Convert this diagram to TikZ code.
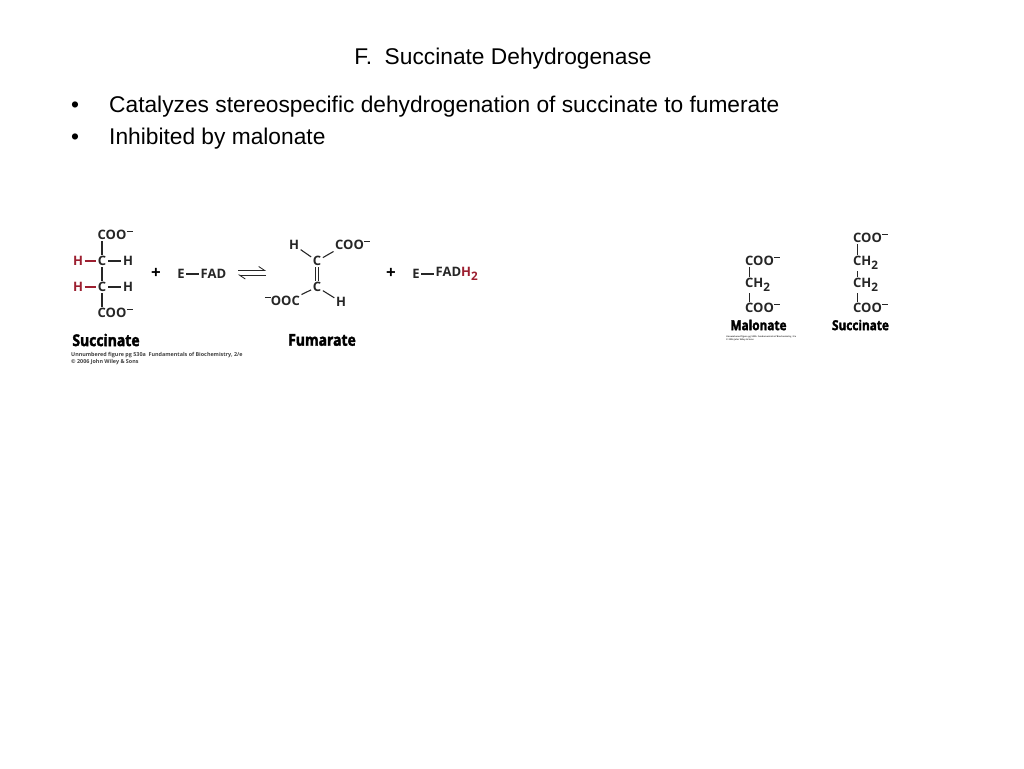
\documentclass[tikz,border=0pt]{standalone}
\usepackage{fontspec}
\setmainfont{Liberation Sans}
\newfontfamily\chemfont{Open Sans}
\newfontfamily\namefont[FakeStretch=0.86,BoldFeatures={FakeBold=2.2}]{Open Sans}
\usetikzlibrary{arrows.meta}
\definecolor{acidred}{HTML}{9C1F30}
\newcommand{\chg}{\hspace{0.04em}\rule[0.62em]{0.46em}{0.07em}}
\newcommand{\subtwo}{\raisebox{-0.3em}{\scalebox{0.9}{2}}}

\begin{document}
\begin{tikzpicture}[x=1pt,y=-1pt,
    slidetext/.style={font=\fontsize{22.75}{26}\selectfont,inner sep=0pt},
    atom/.style={font=\chemfont\bfseries\fontsize{13}{15}\selectfont,inner sep=1.5pt,text=black!85},
    redatom/.style={atom,text=acidred},
    molname/.style={font=\namefont\bfseries\fontsize{16.2}{17}\selectfont,inner sep=0pt},
    smallname/.style={font=\namefont\bfseries\fontsize{13.7}{14}\selectfont,inner sep=0pt},
    credit/.style={font=\chemfont\bfseries\fontsize{5.4}{7}\selectfont,inner sep=0pt,anchor=west,text=black!75},
    smallcredit/.style={credit,font=\chemfont\bfseries\fontsize{2.2}{3}\selectfont},
    bond/.style={line width=1.1pt,black!85},
    redbond/.style={line width=1.1pt,acidred},
    sign/.style={font=\chemfont\bfseries\fontsize{17}{17}\selectfont,inner sep=0pt}
    ]
    \useasboundingbox (0,0) rectangle (1024,768);
    
    % slide text
    \node[slidetext] (title) at (503,59) {F.\ \ Succinate Dehydrogenase};
    \foreach \ypos/\words[count=\i] in {107/Catalyzes stereospecific dehydrogenation of succinate to fumerate,139/Inhibited by malonate} {
        \node[slidetext] (dot\i) at (75,\ypos) {•};
        \node[slidetext,anchor=west] (line\i) at (109,\ypos) {\words};
    }
    
    % succinate, left
    \node[atom,anchor=west] (stop) at (96,235) {COO\chg};
    \node[atom] (sc1) at (102,261) {C};
    \node[atom] (sc2) at (102,287) {C};
    \node[atom,anchor=west] (sbot) at (96,313) {COO\chg};
    \foreach \c in {1,2} {
        \node[redatom] (shl\c) at ([xshift=-24pt]sc\c) {H};
        \node[atom] (shr\c) at ([xshift=26pt]sc\c) {H};
        \draw[redbond] (shl\c) -- (sc\c);
        \draw[bond] (sc\c) -- (shr\c);
    }
    \draw[bond] (sc1) -- (sc1 |- stop.south);
    \draw[bond] (sc1) -- (sc2);
    \draw[bond] (sc2) -- (sc2 |- sbot.north);
    \node[molname] (sname) at (106,340) {Succinate};
    \node[credit] (scredit1) at (71,355.5) {Unnumbered figure pg 530a\ \ Fundamentals of Biochemistry, 2/e};
    \node[credit] (scredit2) at (71,362.5) {© 2006 John Wiley \& Sons};
    
    % left side enzyme
    \node[sign] (plus1) at (156,273) {+};
    \node[atom] (e1) at (181,274) {E};
    \node[atom,anchor=west] (fad) at (199,274) {FAD};
    \draw[bond] (e1) -- (fad);
    
    % equilibrium harpoons
    \coordinate (eqa) at (238,270.5);
    \coordinate (eqb) at (266,270.5);
    \coordinate (eqc) at (266,275);
    \coordinate (eqd) at (238,275);
    \draw[line width=0.8pt,black!85,-{Straight Barb[left,length=6pt,width=8pt]}] (eqa) -- (eqb);
    \draw[line width=0.8pt,black!85,-{Straight Barb[left,length=6pt,width=8pt]}] (eqc) -- (eqd);
    
    % fumarate
    \node[atom] (fc1) at (317,261) {C};
    \node[atom] (fc2) at (317,287) {C};
    \node[atom] (fh1) at (294,245) {H};
    \node[atom,anchor=west] (fcoo1) at (333.5,245) {COO\chg};
    \node[atom,anchor=east] (fcoo2) at (301.5,301) {\chg OOC};
    \node[atom] (fh2) at (341,302) {H};
    \draw[bond] (fh1) -- (fc1);
    \draw[bond] (fc1) -- (fcoo1.south west);
    \draw[bond] (fc2) -- (fcoo2.north east);
    \draw[bond] (fc2) -- (fh2);
    \draw[bond] ([xshift=-1.7pt]fc1.south) -- ([xshift=-1.7pt]fc2.north);
    \draw[bond] ([xshift=1.7pt]fc1.south) -- ([xshift=1.7pt]fc2.north);
    \node[molname] (fname) at (322,340) {Fumarate};
    
    % right side enzyme
    \node[sign] (plus2) at (391,273) {+};
    \node[atom] (e2) at (416,274) {E};
    \node[atom,anchor=west] (fadh) at (434,274) {FAD\textcolor{acidred}{H\subtwo}};
    \draw[bond] (e2) -- (fadh);
    
    % malonate and succinate, right
    \node[atom,anchor=west] (mtop) at (743.5,261) {COO\chg};
    \node[atom,anchor=west] (mmid) at (743.5,285) {CH\subtwo};
    \node[atom,anchor=west] (mbot) at (743.5,308) {COO\chg};
    \draw[bond] ([xshift=6pt]mtop.south west) -- ([xshift=6pt]mmid.north west);
    \draw[bond] ([xshift=6pt]mmid.south west) -- ([xshift=6pt]mbot.north west);
    \node[smallname] (mname) at (758.5,325) {Malonate};
    \node[smallcredit] (mcredit1) at (726,337) {Unnumbered figure pg 530b\ \ Fundamentals of Biochemistry, 2/e};
    \node[smallcredit] (mcredit2) at (726,340) {© 2006 John Wiley \& Sons};
    
    \node[atom,anchor=west] (rs1) at (851.5,238) {COO\chg};
    \node[atom,anchor=west] (rs2) at (851.5,263) {CH\subtwo};
    \node[atom,anchor=west] (rs3) at (851.5,285) {CH\subtwo};
    \node[atom,anchor=west] (rs4) at (851.5,308) {COO\chg};
    \foreach \a/\b in {rs1/rs2,rs2/rs3,rs3/rs4} {
        \draw[bond] ([xshift=6pt]\a.south west) -- ([xshift=6pt]\b.north west);
    }
    \node[smallname] (rname) at (860.5,325) {Succinate};
    
\end{tikzpicture}
\end{document}
